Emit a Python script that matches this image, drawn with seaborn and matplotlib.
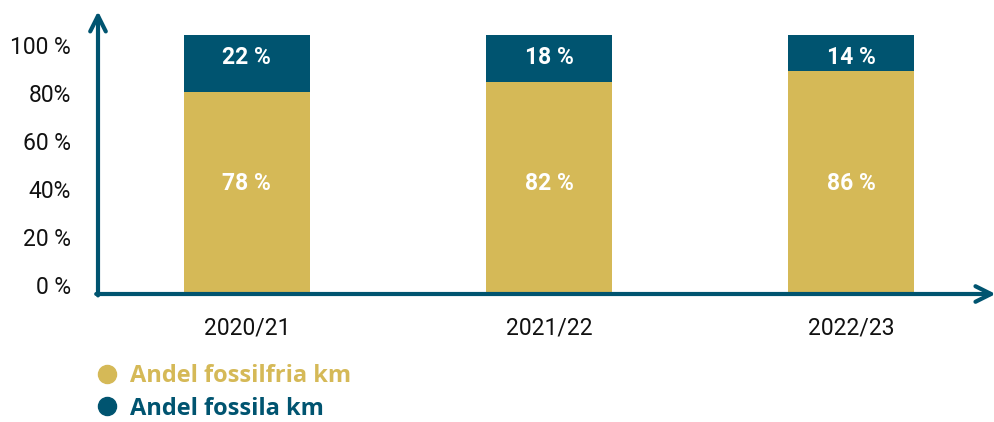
import seaborn as sns
import matplotlib.pyplot as plt
from matplotlib.lines import Line2D
import numpy as np

years = ['2020/21', '2021/22', '2022/23']
fossilfria = [78, 82, 86]
fossila = [22, 18, 14]
ytick_labels = ['0 %', '20 %', '40%', '60 %', '80%', '100 %']

gold = '#D5B957'
teal = '#005470'

sns.set_theme(style='white')
plt.rcParams['font.family'] = ['Roboto', 'DejaVu Sans']

fig = plt.figure(figsize=(9.95, 4.22), dpi=100)
ax = fig.add_axes([98 / 995, 128 / 422, 895 / 995, 280 / 422])

totals = [a + b for a, b in zip(fossilfria, fossila)]
sns.barplot(x=years, y=totals, color=teal, width=0.417, saturation=1, linewidth=0, ax=ax)
sns.barplot(x=years, y=fossilfria, color=gold, width=0.417, saturation=1, linewidth=0, ax=ax)

# value labels sit at fixed heights in the original
for i, (g, f) in enumerate(zip(fossilfria, fossila)):
    ax.text(i, 42.5, f'{g} %', ha='center', va='center', color='white',
            fontsize=16.5, fontweight='bold')
    ax.text(i, 91.2, f'{f} %', ha='center', va='center', color='white',
            fontsize=16.5, fontweight='bold')

ax.set_xlim(-0.493, 2.47)
ax.set_ylim(0, 108.1)
# tick labels sit slightly off the data scale in the original
ax.set_yticks(np.linspace(3.5, 96.1, 6))
ax.set_yticklabels(ytick_labels)
ax.tick_params(axis='y', length=0, pad=19.5, labelsize=16.5, labelcolor='#111111')
ax.tick_params(axis='x', length=0, pad=16, labelsize=16.5, labelcolor='#111111')

for s in ax.spines.values():
    s.set_visible(False)

arrow = dict(arrowstyle='->', color=teal, lw=3, mutation_scale=28, shrinkA=0, shrinkB=0)
ax.annotate('', xy=(0, 1.01), xytext=(0, -0.005), xycoords='axes fraction', arrowprops=arrow)
ax.annotate('', xy=(1.003, 0), xytext=(-0.002, 0), xycoords='axes fraction', arrowprops=arrow)

handles = [Line2D([], [], marker='o', ls='', color=gold, markersize=13),
           Line2D([], [], marker='o', ls='', color=teal, markersize=13)]
leg = fig.legend(handles, ['Andel fossilfria km', 'Andel fossila km'],
                 loc='upper left', bbox_to_anchor=(62 / 995, 1 - 343 / 422),
                 frameon=False, labelcolor=[gold, teal], handletextpad=0.0,
                 labelspacing=0.36, prop={'family': ['Open Sans'], 'weight': 'bold', 'size': 17})

fig.savefig('out.png', dpi=100)
